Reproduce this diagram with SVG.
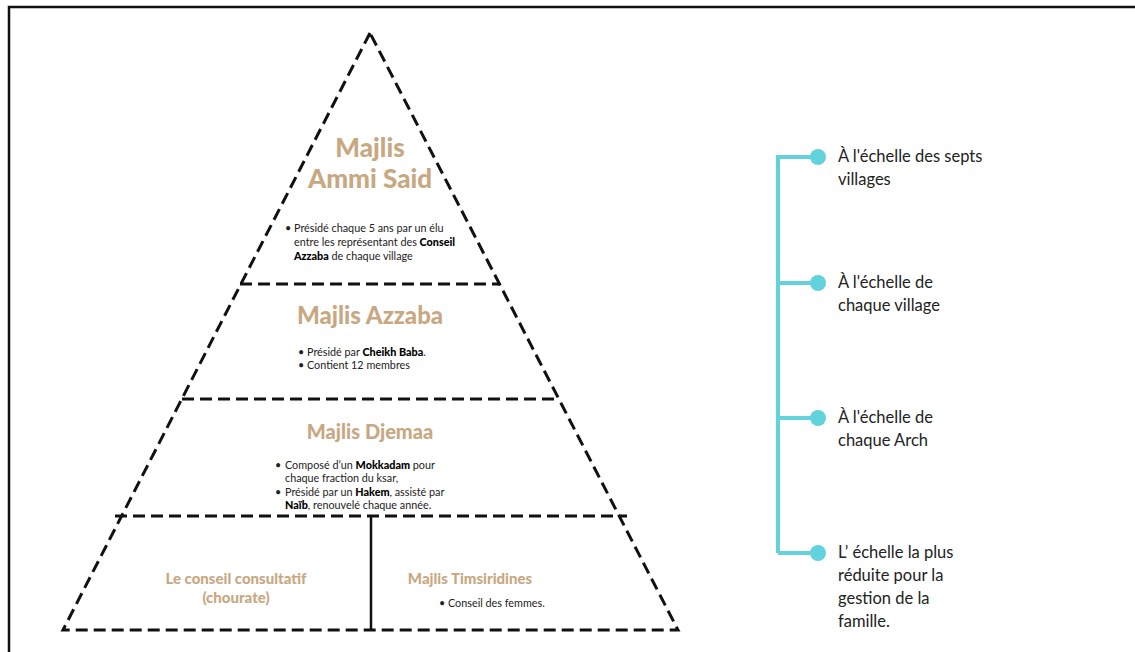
<svg xmlns="http://www.w3.org/2000/svg" width="1135" height="652" viewBox="0 0 1135 652">
<style>
.dash{stroke:#111;stroke-width:3;stroke-dasharray:12 6;fill:none}
.h{font-family:Lato,"Open Sans",sans-serif;font-weight:900;fill:#C8A882;text-anchor:middle}
.b{font-family:Lato,"Open Sans",sans-serif;font-size:10.8px;fill:#222}
.b tspan.k{font-weight:900;fill:#000}
.r{font-family:Lato,"Open Sans",sans-serif;font-size:16.5px;fill:#222}
.tl{stroke:#62D3DD;stroke-width:4;fill:none}
.dot{fill:#62D3DD}
</style>
<rect x="0" y="0" width="1135" height="652" fill="#fff"/>
<path d="M9,660 V7 H1140" stroke="#111" stroke-width="2.5" fill="none"/>
<g id="connectors">
<path class="dash" d="M370,33 L63,630 L678,630 Z"/>
<line class="dash" x1="240" y1="284" x2="500" y2="284"/>
<line class="dash" x1="182" y1="399" x2="559" y2="399"/>
<line class="dash" x1="115" y1="516" x2="627" y2="516"/>
<line x1="371" y1="516" x2="371" y2="630" stroke="#111" stroke-width="2.5"/>
</g>
<g id="ammi-said">
<text class="h" x="370" y="157" font-size="26">Majlis</text>
<text class="h" x="370" y="188" font-size="26">Ammi Said</text>
<text class="b" x="285" y="232">•</text>
<text class="b" x="294" y="232">Présidé chaque 5 ans par un élu</text>
<text class="b" x="294" y="246">entre les représentant des <tspan class="k">Conseil</tspan></text>
<text class="b" x="294" y="260"><tspan class="k">Azzaba</tspan> de chaque village</text>
</g>
<g id="azzaba">
<text class="h" x="370" y="324" font-size="24">Majlis Azzaba</text>
<text class="b" x="298" y="356">•</text>
<text class="b" x="307" y="356">Présidé par <tspan class="k">Cheikh Baba</tspan>.</text>
<text class="b" x="298" y="369">•</text>
<text class="b" x="307" y="369">Contient 12 membres</text>
</g>
<g id="djemaa">
<text class="h" x="370" y="439" font-size="20">Majlis Djemaa</text>
<text class="b" x="275" y="469">•</text>
<text class="b" x="285" y="469">Composé d’un <tspan class="k">Mokkadam</tspan> pour</text>
<text class="b" x="285" y="482">chaque fraction du ksar,</text>
<text class="b" x="275" y="496">•</text>
<text class="b" x="285" y="496">Présidé par un <tspan class="k">Hakem</tspan>, assisté par</text>
<text class="b" x="285" y="509"><tspan class="k">Naïb</tspan>, renouvelé chaque année.</text>
</g>
<g id="chourate">
<text class="h" x="236" y="584" font-size="15">Le conseil consultatif</text>
<text class="h" x="236" y="603" font-size="15">(chourate)</text>
</g>
<g id="timsiridines">
<text class="h" x="470" y="584" font-size="15">Majlis Timsiridines</text>
<text class="b" x="439" y="607">•</text>
<text class="b" x="448" y="607">Conseil des femmes.</text>
</g>
<g id="timeline">
<path class="tl" d="M778,157 V553"/>
<path class="tl" d="M776,157 H818 M778,283 H818 M778,418 H818 M778,553 H818"/>
<circle class="dot" cx="818" cy="157" r="8"/>
<circle class="dot" cx="818" cy="283" r="8"/>
<circle class="dot" cx="818" cy="418" r="8"/>
<circle class="dot" cx="818" cy="553" r="8"/>
</g>
<g id="label1"><text class="r" x="838" y="162">À l'échelle des septs</text><text class="r" x="838" y="185">villages</text></g>
<g id="label2"><text class="r" x="838" y="288">À l'échelle de</text><text class="r" x="838" y="311">chaque village</text></g>
<g id="label3"><text class="r" x="838" y="423">À l'échelle de</text><text class="r" x="838" y="446">chaque Arch</text></g>
<g id="label4"><text class="r" x="838" y="558">L’ échelle la plus</text><text class="r" x="838" y="581">réduite pour la</text><text class="r" x="838" y="604">gestion de la</text><text class="r" x="838" y="627">famille.</text></g>
</svg>
